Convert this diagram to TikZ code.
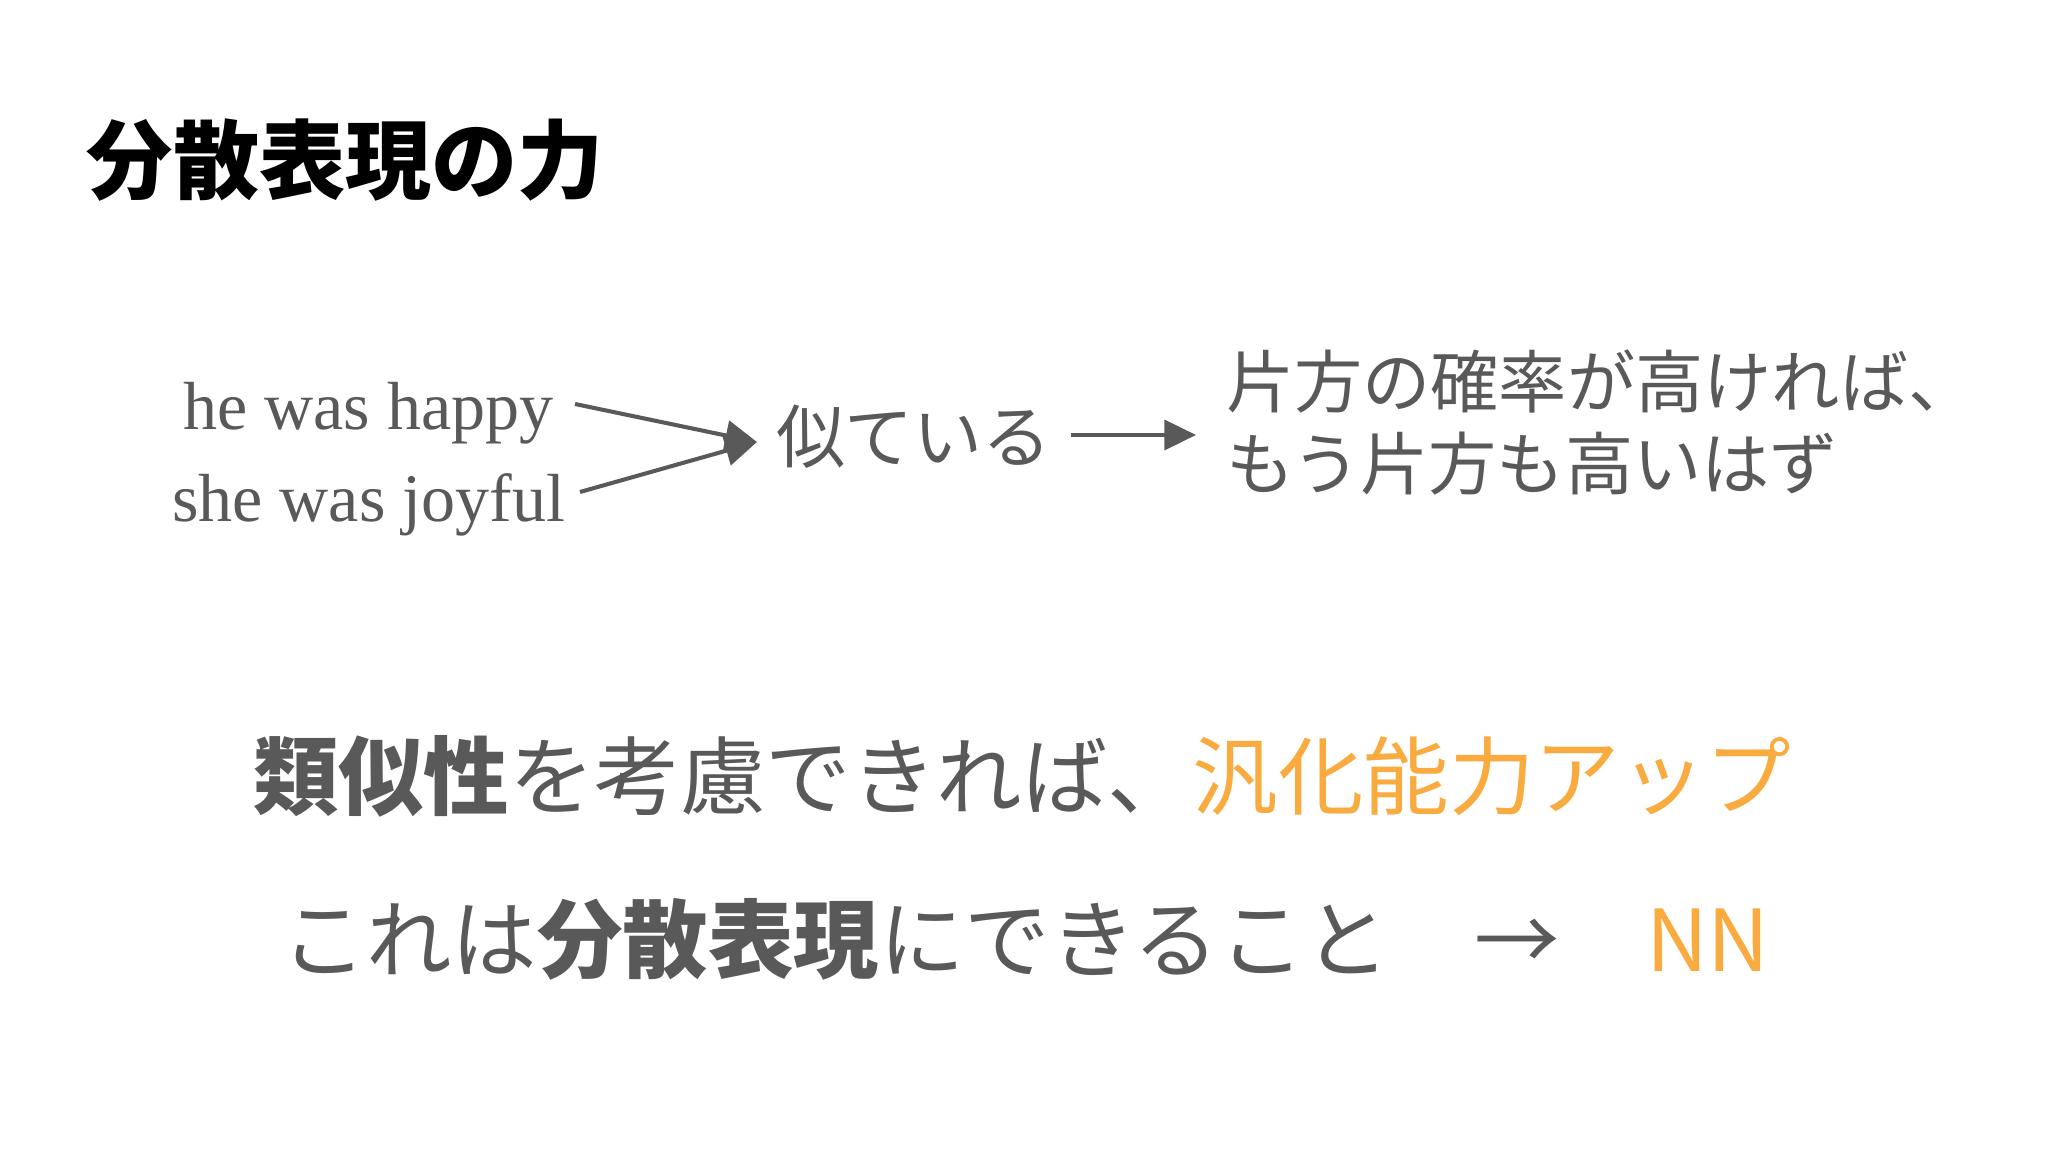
\documentclass[tikz,border=0pt]{standalone}
\usepackage{fontspec}
\setmainfont{Noto Sans CJK JP}
\newfontfamily\enserif{Liberation Serif}
\usetikzlibrary{arrows.meta}
\definecolor{txtgray}{HTML}{595959}
\definecolor{accent}{HTML}{FAAB40}
\newcommand{\fsz}[1]{\fontsize{#1}{#1}\selectfont}
\tikzset{
  txt/.style={inner sep=0pt, outer sep=0pt, anchor=base west, text=txtgray},
  conn/.style={draw=txtgray, line width=1.15pt, -{Triangle[length=9pt,width=8.5pt]}},
}
\begin{document}
\begin{tikzpicture}[x=0.01cm, y=-0.01cm]
\fill[white] (0,0) rectangle (2048,1152);
\useasboundingbox (0,0) rectangle (2048,1152);

\node[txt, text=black] (title) at (87,193) {\fsz{24.5pt}\bfseries 分散表現の力};

\node[txt] (happy) at (183,430) {\fsz{19.35pt}\enserif he was happy};
\node[txt] (joyful) at (172,522) {\fsz{19.35pt}\enserif she was joyful};

\node[txt] (similar) at (776,463) {\fsz{19.6pt}似ている};

\node[txt] (cond1) at (1226,408) {\fsz{19.4pt}片方の確率が高ければ、};
\node[txt] (cond2) at (1226,490) {\fsz{19.4pt}もう片方も高いはず};

\coordinate (a1) at (575,404);
\coordinate (a2) at (580,492);
\coordinate (m) at (757,442);
\coordinate (b1) at (1071,435);
\coordinate (b2) at (1196,435);

\draw[conn] (a1) -- (m);
\draw[conn] (a2) -- (m);
\draw[conn] (b1) -- (b2);

\node[txt] (line1) at (253,808) {\fsz{24.3pt}\textbf{類似性}を考慮できれば、\textcolor{accent}{汎化能力アップ}};
\node[txt] (line2) at (281,971) {\fsz{24.3pt}これは\textbf{分散表現}にできること};
\node[txt] (arr) at (1474,971) {\fsz{24.3pt}→};
\node[txt, text=accent] (nn) at (1646,971) {\fsz{24.3pt}NN};
\end{tikzpicture}
\end{document}
